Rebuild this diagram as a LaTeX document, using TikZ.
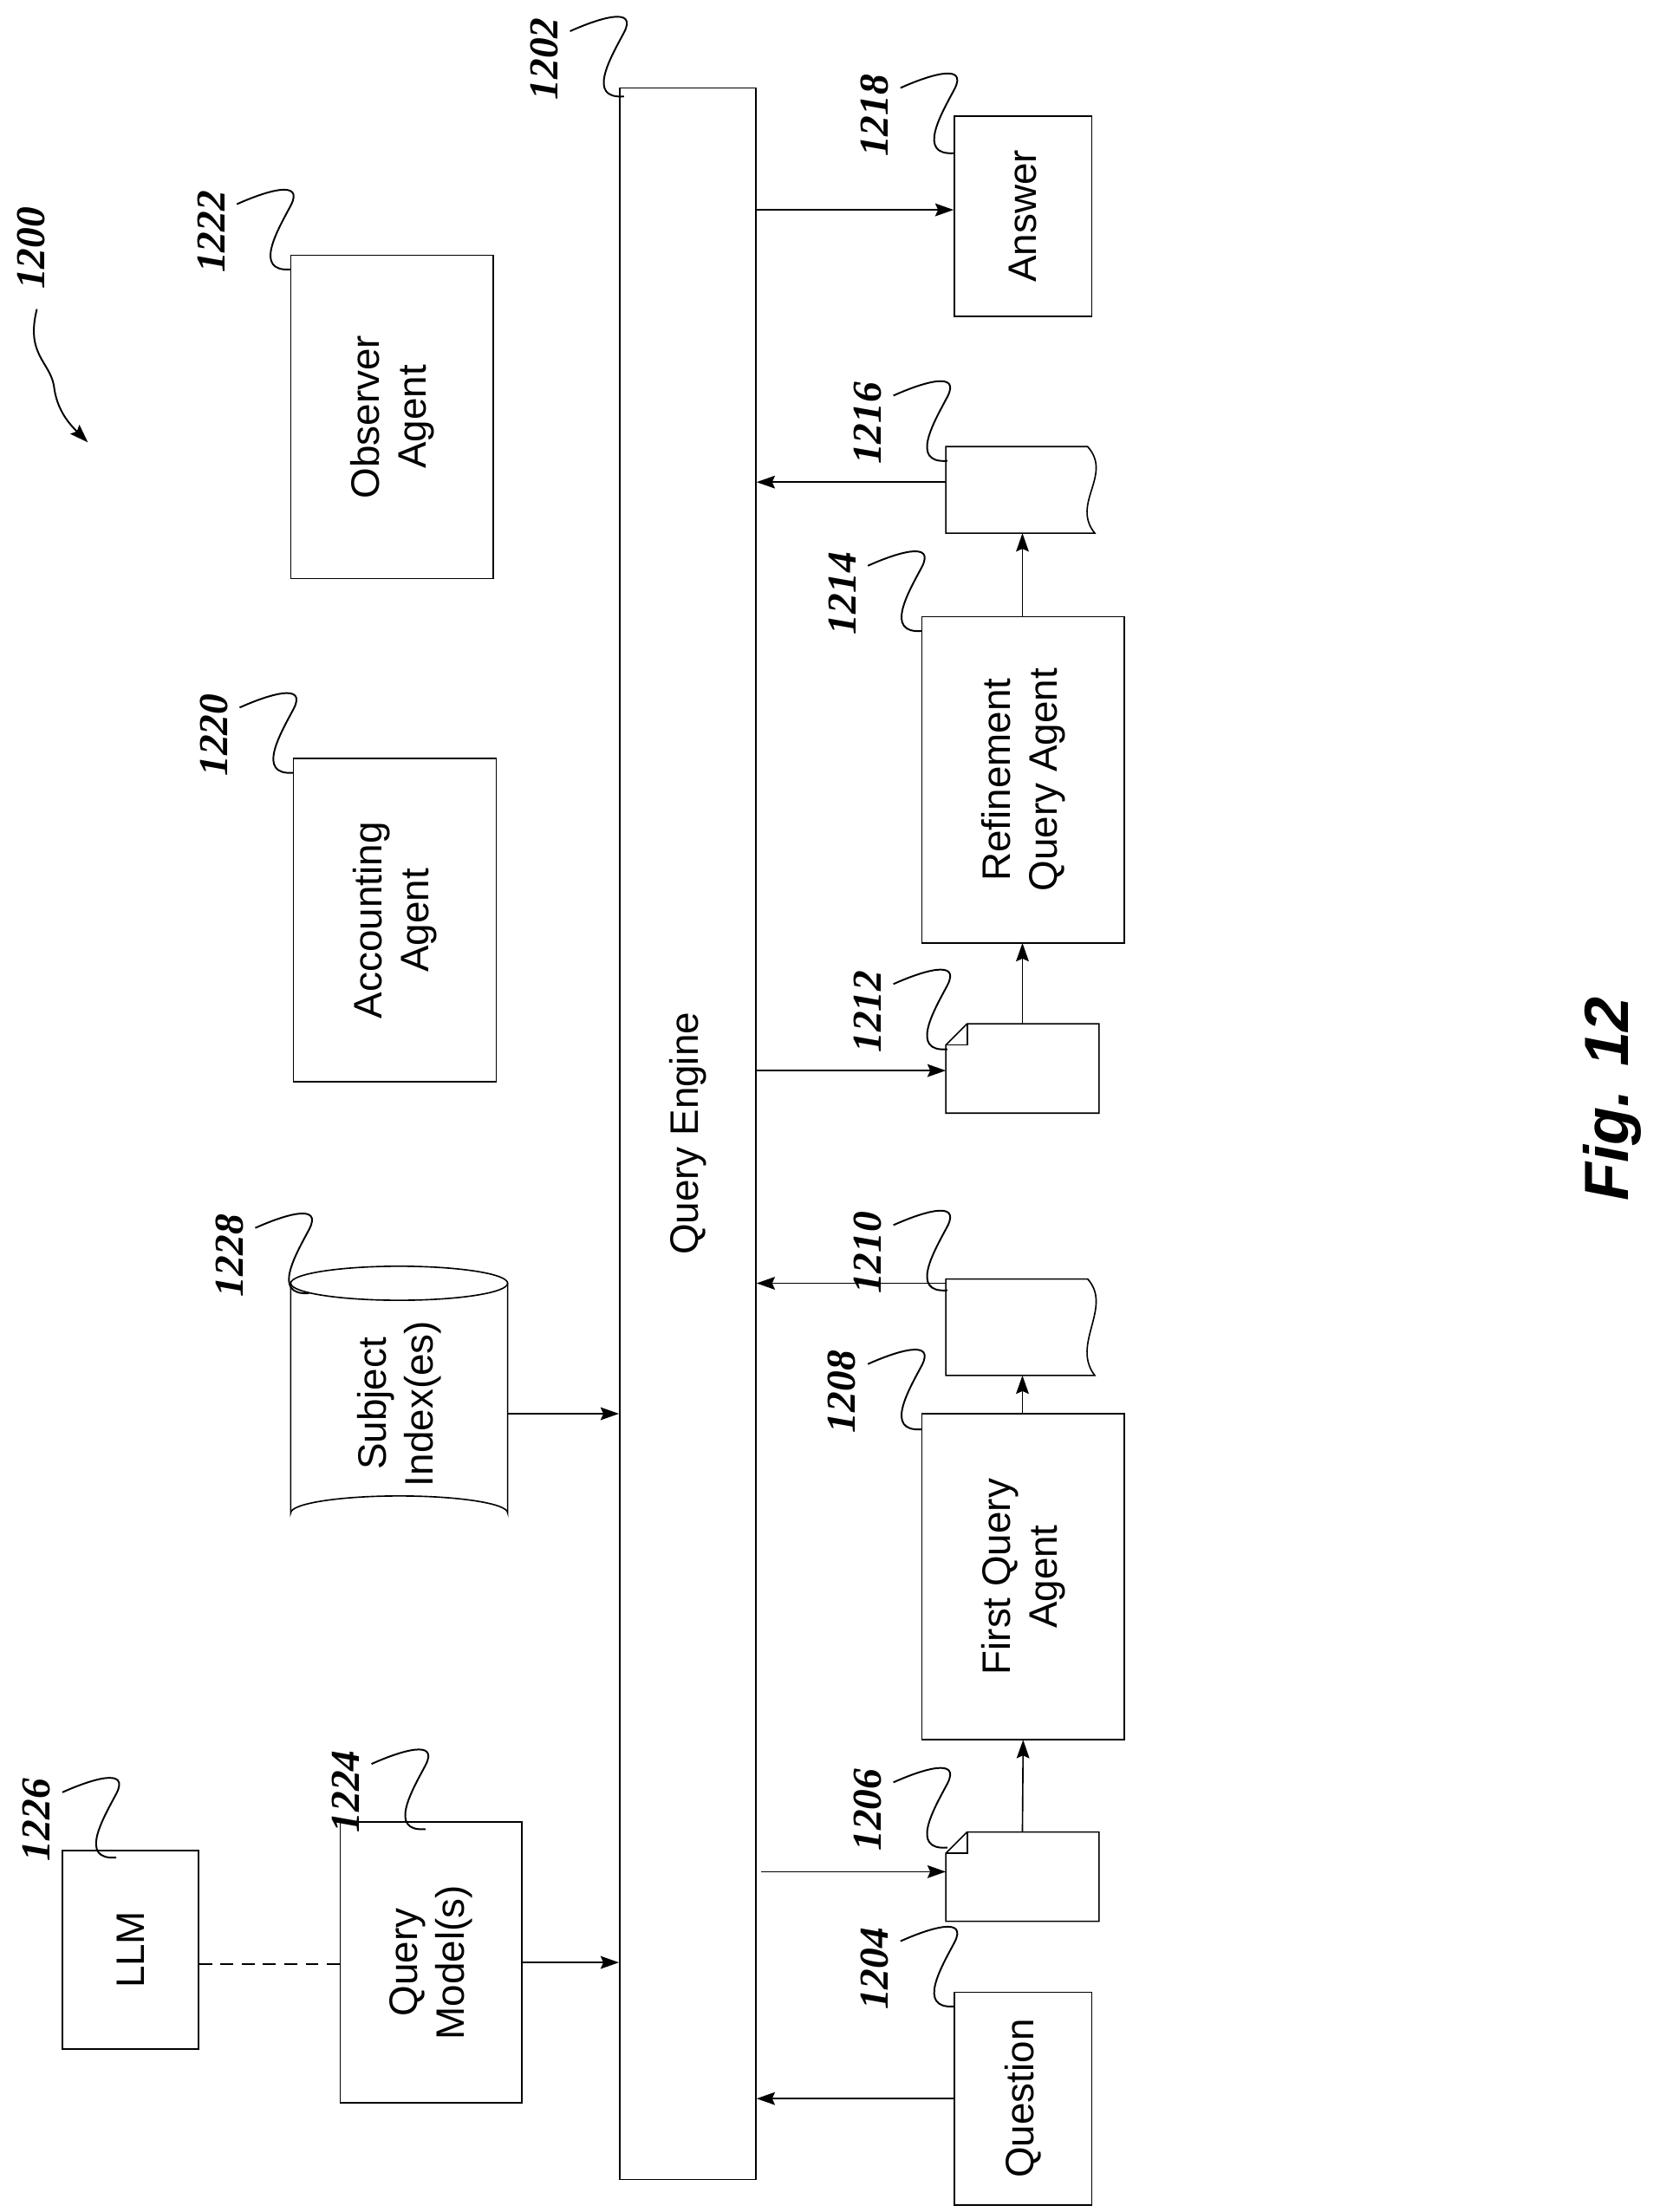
\documentclass[tikz,border=0pt]{standalone}
\usepackage{fontspec}
\setmainfont{Liberation Sans}
\newfontfamily\numfont{Liberation Serif}
\usetikzlibrary{arrows.meta,calc}
\begin{document}
\begin{tikzpicture}[x=1pt,y=-1pt,line width=1pt,
  box/.style={draw,rectangle,inner sep=0pt,align=center},
  txt/.style={rotate=90,align=center,font=\fontsize{28}{33}\selectfont},
  arr/.style={-{Stealth[length=13pt,width=9pt,inset=2pt]}},
  num/.style={rotate=90,anchor=south east,inner sep=0pt,font=\numfont\bfseries\itshape\fontsize{29}{30}\selectfont}]
\useasboundingbox (0,0) rectangle (1170,1560);
\newcommand{\lbl}[3]{%
  \coordinate (#1) at (#2);
  \node[num] (#1t) at ($(#1)+(-46,-56)$) {#3};
  \draw[line width=1.2pt] ($(#1)+(-38,-46)$) .. controls ($(#1)+(-18,-55)$) and ($(#1)+(10,-64)$) .. ($(#1)+(0,-45)$) .. controls ($(#1)+(-9,-28)$) and ($(#1)+(-27,2)$) .. (#1);}
% boxes
\node[box,minimum width=96,minimum height=1475] (qe) at (485,799.5) {};
\node[txt] at (qe) {Query Engine};
\node[box,minimum width=97,minimum height=141] (ans) at (721.5,152.5) {};
\node[txt] at (ans) {Answer};
\node[box,minimum width=143,minimum height=228] (obs) at (276.5,294) {};
\node[txt] at (obs) {Observer\\Agent};
\node[box,minimum width=143,minimum height=228] (acc) at (278.5,649) {};
\node[txt] at (acc) {Accounting\\Agent};
\node[box,minimum width=128,minimum height=198] (qm) at (304,1384) {};
\node[txt] at (qm) {Query\\Model(s)};
\node[box,minimum width=96,minimum height=140] (llm) at (92,1375) {};
\node[txt] at (llm) {LLM};
\node[box,minimum width=97,minimum height=150] (q) at (721.5,1480) {};
\node[txt] at (q) {Question};
\node[box,minimum width=143,minimum height=230] (fqa) at (721.5,1112) {};
\node[txt] at (fqa) {First Query\\Agent};
\node[box,minimum width=143,minimum height=230] (rqa) at (721.5,550) {};
\node[txt] at (rqa) {Refinement\\Query Agent};
% cylinder
\draw (205,905) -- (205,1067) arc[start angle=180,end angle=0,x radius=76.5,y radius=-12] -- (358,905);
\draw (281.5,905) ellipse[x radius=76.5,y radius=12];
\node[txt] at (281.5,990) {Subject\\Index(es)};
% documents
\draw (682,1292) -- (775,1292) -- (775,1355) -- (667,1355) -- (667,1307) -- cycle;
\draw (667,1307) -- (682,1307) -- (682,1292);
\draw (682,722) -- (775,722) -- (775,785) -- (667,785) -- (667,737) -- cycle;
\draw (667,737) -- (682,737) -- (682,722);
\draw (667,902) -- (767,902) .. controls (785,922) and (755,948) .. (772,970) -- (667,970) -- cycle;
\draw (667,315) -- (767,315) .. controls (785,335) and (755,355) .. (772,376) -- (667,376) -- cycle;
% connectors
\coordinate (dl) at (llm.east |- 0,1385);
\draw[dash pattern=on 9pt off 6pt] (dl) -- (qm.west |- dl);
\draw[arr] (qm.east) -- (qe.west |- qm.east);
\draw[arr] (358,997) -- (qe.west |- 0,997);
\draw[arr] (qe.east |- 0,148) -- (ans.west |- 0,148);
\draw[arr] (q.west) -- (qe.east |- q.west);
\draw[arr] (537,1320) -- (667,1320);
\draw[arr] (721,1292) -- (fqa.south |- 0,1227);
\draw[arr] (721,997) -- (721,970);
\draw[arr] (667,905) -- (qe.east |- 0,905);
\draw[arr] (533,755) -- (667,755);
\draw[arr] (721,722) -- (721,665);
\draw[arr] (721,435) -- (721,376);
\draw[arr] (667,340) -- (qe.east |- 0,340);
% labels
\lbl{l1202}{440,68}{1202}
\lbl{l1218}{673,108}{1218}
\lbl{l1216}{668,325}{1216}
\lbl{l1214}{650,445}{1214}
\lbl{l1212}{668,740}{1212}
\lbl{l1210}{668,910}{1210}
\lbl{l1208}{650,1008}{1208}
\lbl{l1206}{668,1303}{1206}
\lbl{l1204}{673,1415}{1204}
\lbl{l1222}{205,190}{1222}
\lbl{l1220}{207,545}{1220}
\lbl{l1228}{218,912}{1228}
\lbl{l1224}{300,1290}{1224}
\lbl{l1226}{82,1310}{1226}
% 1200
\node[num,anchor=center] at (22,175) {1200};
\draw[arr,line width=1.2pt] (26,218) .. controls (18,250) and (35,255) .. (38,272) .. controls (40,290) and (50,300) .. (62,312);
\node[rotate=90,font=\bfseries\itshape\fontsize{44}{44}\selectfont] at (1137,775) {Fig. 12};
\end{tikzpicture}
\end{document}
